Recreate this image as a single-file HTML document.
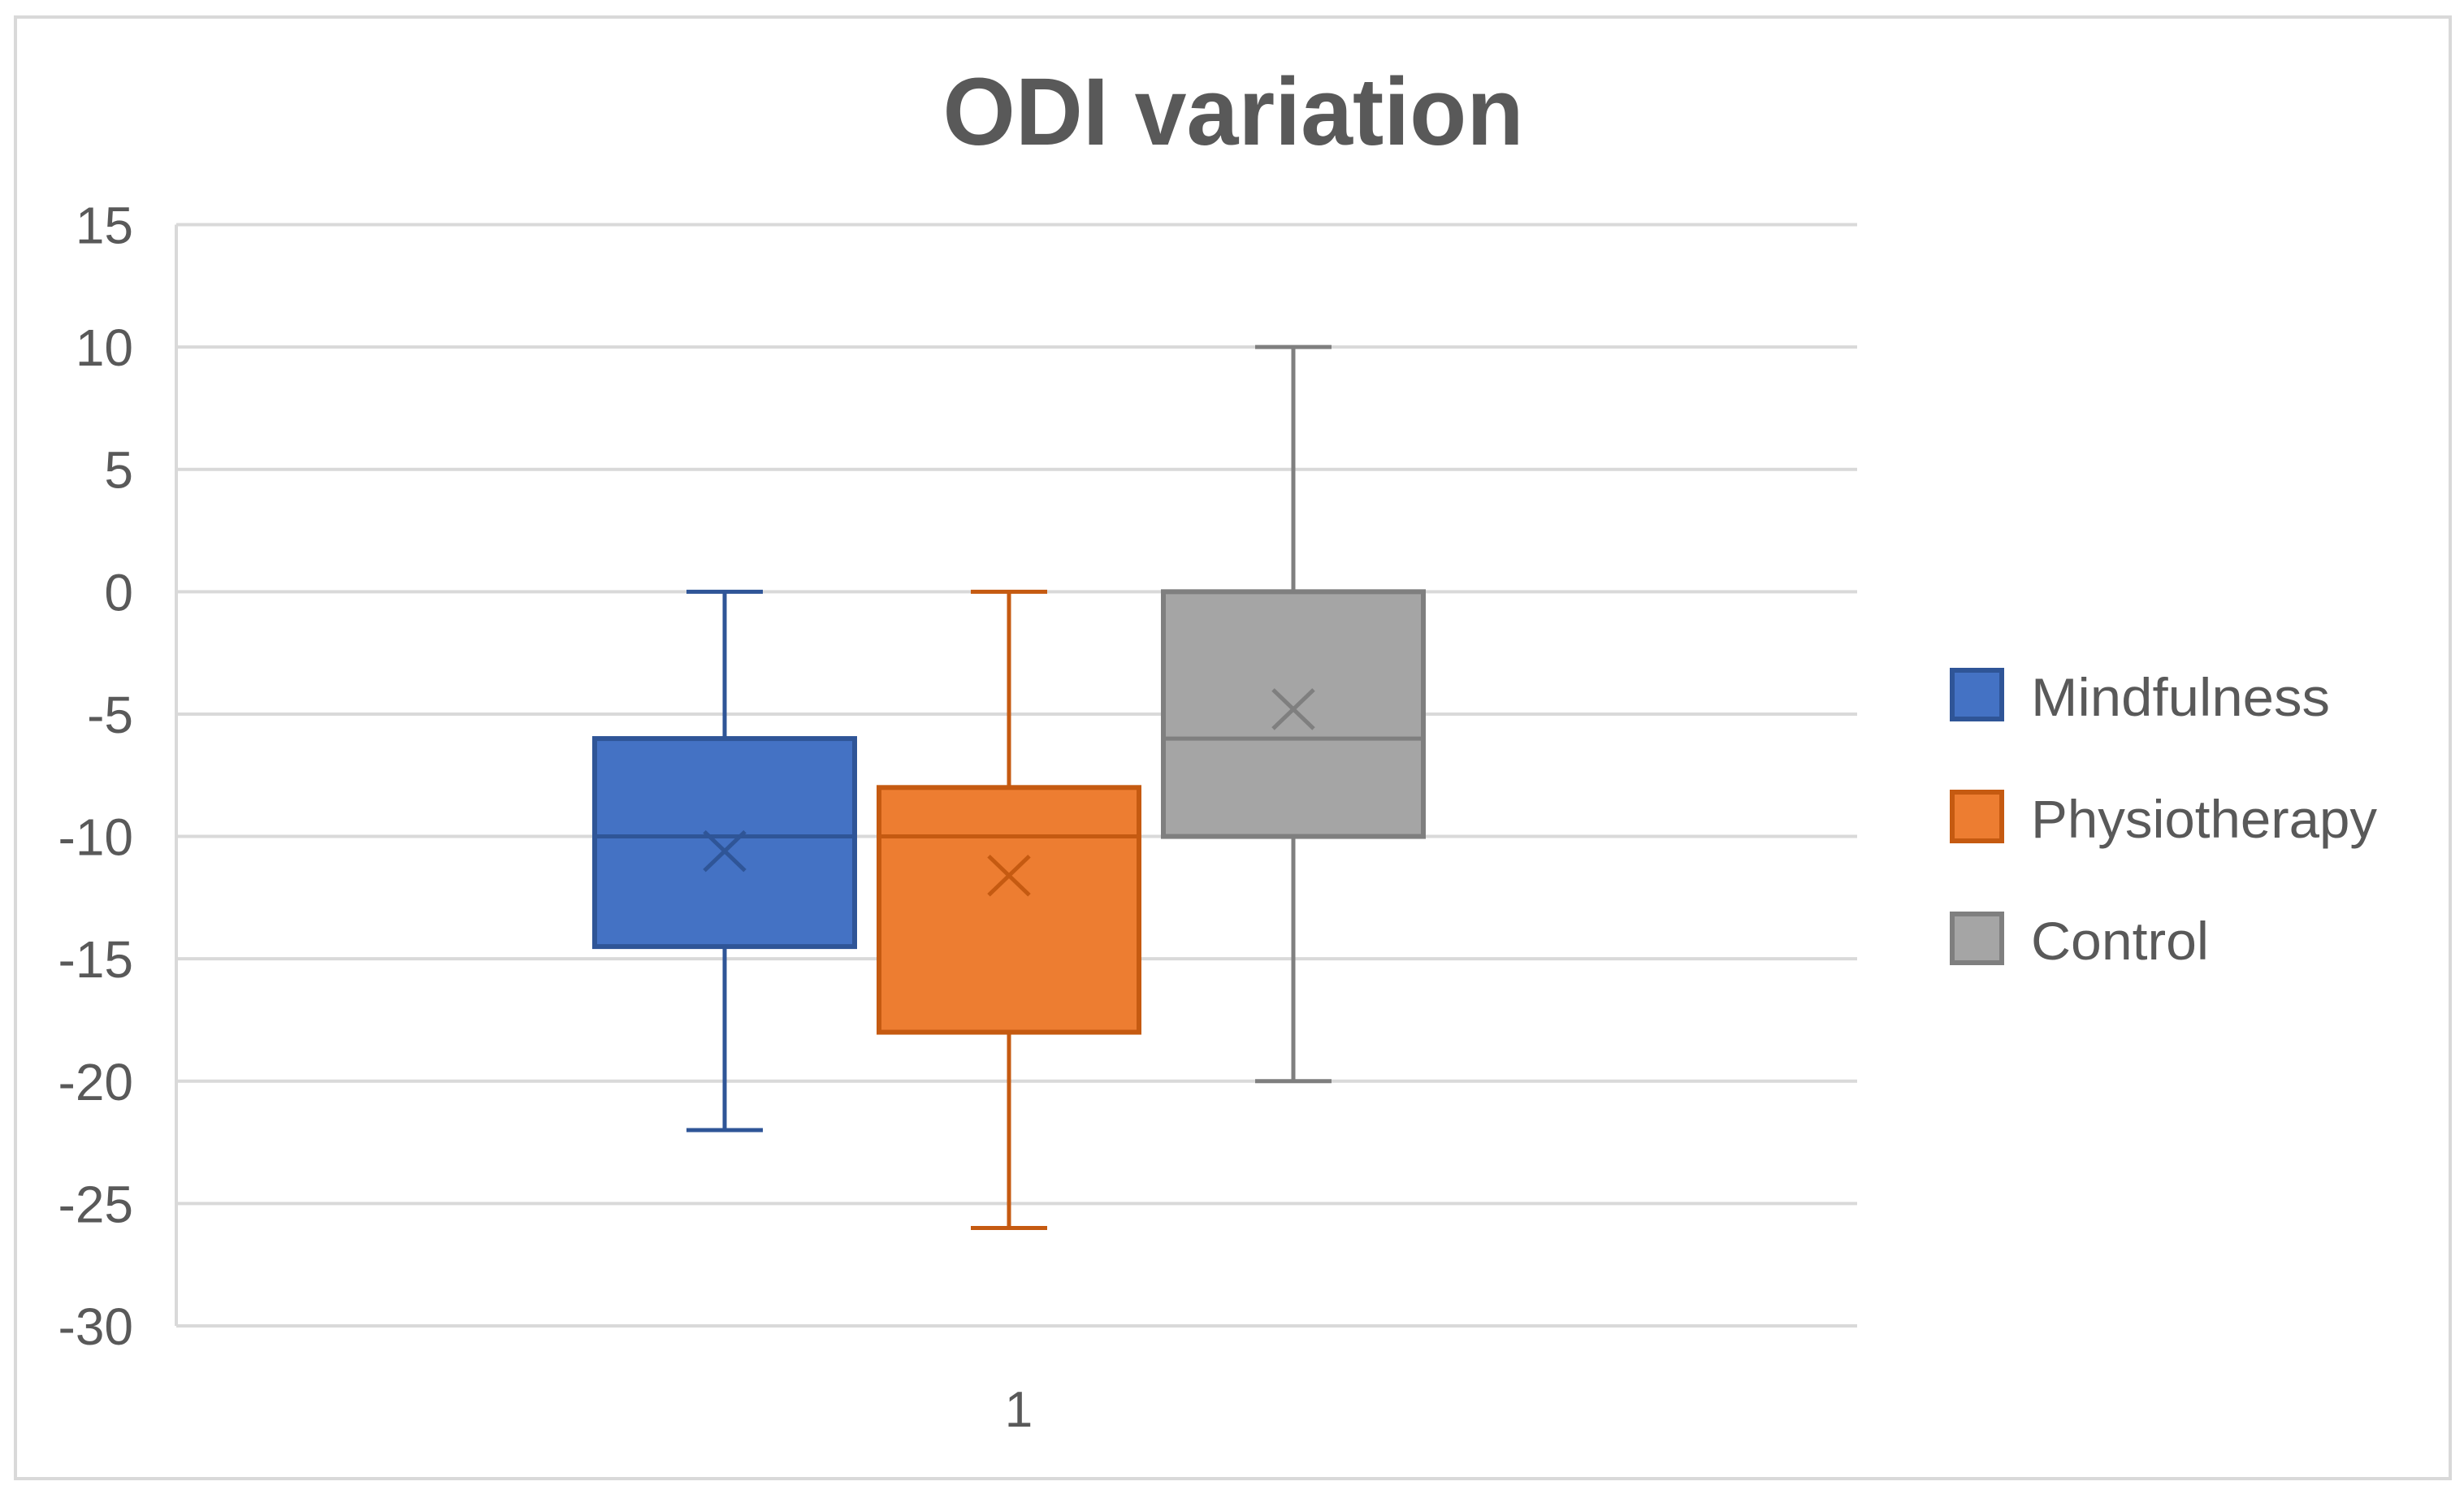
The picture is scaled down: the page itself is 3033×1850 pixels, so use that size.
<!DOCTYPE html>
<html><head><meta charset="utf-8"><style>html,body{margin:0;padding:0;background:#fff}svg{display:block}</style></head>
<body>
<svg id="chart" width="3033" height="1850" viewBox="0 0 3033 1850" xmlns="http://www.w3.org/2000/svg">
<rect x="19" y="21" width="2997" height="1799" fill="#fff" stroke="#d9d9d9" stroke-width="4"/>
<text x="1518" y="178" text-anchor="middle" font-family="Liberation Sans, sans-serif" font-weight="bold" font-size="118" fill="#595959" textLength="715" lengthAdjust="spacingAndGlyphs">ODI variation</text>
<g id="grid"></g><g id="boxes"></g><g id="legend"></g>
<text x="1254" y="1756" text-anchor="middle" font-family="Liberation Sans, sans-serif" font-size="62" fill="#595959">1</text>
</svg>
<script>
const ticks = [15, 10, 5, 0, -5, -10, -15, -20, -25, -30];
const series = ["Mindfulness", "Physiotherapy", "Control"];
const whiskerMax = [0, 0, 10];
const q3 = [-6, -8, 0];
const medians = [-10, -10, -6];
const q1 = [-14.5, -18, -10];
const whiskerMin = [-22, -26, -20];
const means = [-10.6, -11.6, -4.8];
const fills = ["#4472c4", "#ed7d31", "#a5a5a5"];
const strokes = ["#2f5597", "#c55a11", "#7f7f7f"];
const legendWidths = [368, 426, 219];

const NS = "http://www.w3.org/2000/svg";
const yTop = 276.5, yBot = 1632, vMax = 15, vMin = -30;
const y = v => yTop + (vMax - v) * (yBot - yTop) / (vMax - vMin);
const boxW = 320, gap = 30, centerX = 1242;
const xC = i => centerX + (i - (series.length - 1) / 2) * (boxW + gap);
function el(tag, attrs, parent) { const e = document.createElementNS(NS, tag); for (const k in attrs) e.setAttribute(k, attrs[k]); parent.appendChild(e); return e; }

const grid = document.getElementById('grid');
ticks.forEach(t => {
  const l = el('line', {x1: 217, x2: 2286, y1: y(t), y2: y(t), stroke: '#d9d9d9', 'stroke-width': 4}, grid);
  
  
  const tx = el('text', {x: 164, y: y(t) + 23, 'text-anchor': 'end', 'font-family': 'Liberation Sans, sans-serif', 'font-size': 64, fill: '#595959'}, grid);
  tx.textContent = t;
  
  
});
const ax = el('line', {x1: 217, x2: 217, y1: yTop, y2: yBot, stroke: '#d9d9d9', 'stroke-width': 4}, grid);



const boxes = document.getElementById('boxes');
series.forEach((s, i) => {
  const g = el('g', {}, boxes);
  
  
  const c = xC(i), st = strokes[i], sw = 5;
  el('line', {x1: c, x2: c, y1: y(whiskerMax[i]), y2: y(q3[i]), stroke: st, 'stroke-width': sw}, g);
  el('line', {x1: c, x2: c, y1: y(q1[i]), y2: y(whiskerMin[i]), stroke: st, 'stroke-width': sw}, g);
  el('line', {x1: c - 47, x2: c + 47, y1: y(whiskerMax[i]), y2: y(whiskerMax[i]), stroke: st, 'stroke-width': sw}, g);
  el('line', {x1: c - 47, x2: c + 47, y1: y(whiskerMin[i]), y2: y(whiskerMin[i]), stroke: st, 'stroke-width': sw}, g);
  el('rect', {x: c - boxW / 2, y: y(q3[i]), width: boxW, height: y(q1[i]) - y(q3[i]), fill: fills[i], stroke: st, 'stroke-width': sw + 1}, g);
  el('line', {x1: c - boxW / 2, x2: c + boxW / 2, y1: y(medians[i]), y2: y(medians[i]), stroke: st, 'stroke-width': sw}, g);
  const m = y(means[i]);
  el('path', {d: `M${c-25},${m-24}L${c+25},${m+24}M${c-25},${m+24}L${c+25},${m-24}`, stroke: st, 'stroke-width': sw, fill: 'none'}, g);
});

const legend = document.getElementById('legend');
series.forEach((s, i) => {
  const g = el('g', {}, legend);
  
  
  const top = 822 + i * 150;
  el('rect', {x: 2403, y: top + 3, width: 61, height: 60, fill: fills[i], stroke: strokes[i], 'stroke-width': 6}, g);
  const t = el('text', {x: 2500, y: top + 59, 'font-family': 'Liberation Sans, sans-serif', 'font-size': 66, fill: '#595959', textLength: legendWidths[i], lengthAdjust: 'spacingAndGlyphs'}, g);
  t.textContent = s;
});
</script>
</body></html>
